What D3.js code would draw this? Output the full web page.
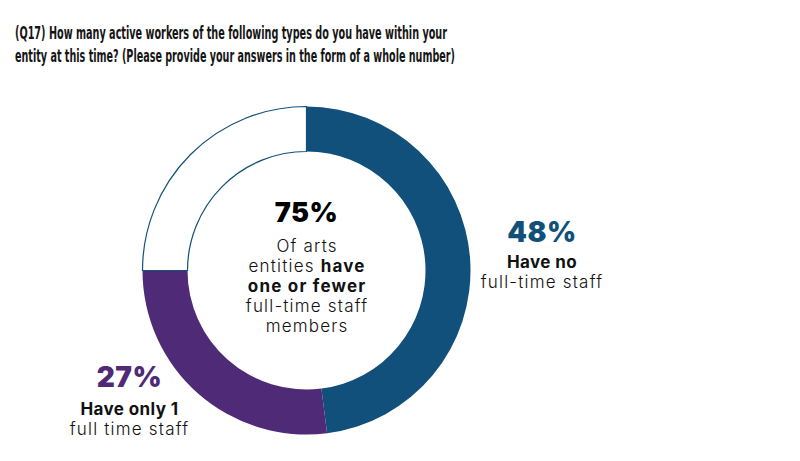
<!DOCTYPE html>
<html>
<head>
<meta charset="utf-8">
<script src="https://cdn.jsdelivr.net/npm/d3@7"></script>
<style>
  body { margin: 0; background: #fff; }
  svg { display: block; }
</style>
</head>
<body>
<svg width="800" height="461"></svg>
<script>
// data
var categories = ["Have no full-time staff", "Have only 1 full time staff", "More than 1"];
var values = [48, 27, 25];
var colors = ["#11507a", "#4e2a77", "#ffffff"];
var titleLines = [
  "(Q17) How many active workers of the following types do you have within your",
  "entity at this time? (Please provide your answers in the form of a whole number)"
];
var centerValue = "75%";

var svg = d3.select("svg");
var width = +svg.attr("width");
var height = +svg.attr("height");

// title
var title = svg.append("g");
title.selectAll("text")
  .data(titleLines)
  .enter()
  .append("text")
  .attr("x", 15)
  .attr("y", (d, i) => 38.5 + i * 23)
  .attr("textLength", (d, i) => i == 0 ? 432 : 440)
  .attr("lengthAdjust", "spacingAndGlyphs")
  .style("font-family", "'Liberation Sans Narrow', 'DejaVu Sans Condensed', sans-serif")
  .style("font-weight", "700")
  .style("font-size", "18px")
  .style("fill", "#151515")
  .text(d => d);

// donut
var cx = 306.5, cy = 270.5;
var outerR = 164, innerR = 119;

var pie = d3.pie().sort(null).value(d => d.value);
var arc = d3.arc().innerRadius(innerR).outerRadius(outerR);

var slices = values.map((v, i) => ({ name: categories[i], value: v, color: colors[i] }));

var g = svg.append("g").attr("transform", "translate(" + cx + "," + cy + ")");
g.selectAll("path")
  .data(pie(slices))
  .enter()
  .append("path")
  .attr("d", arc)
  .style("fill", d => d.data.color)
  .style("stroke", (d, i) => i == 2 ? colors[0] : "none")
  .style("stroke-width", 1.2);

// center label
var font = "Inter, 'Open Sans', sans-serif";
g.append("text")
  .attr("x", 0).attr("y", -49)
  .attr("text-anchor", "middle")
  .style("font-family", font)
  .style("font-weight", "900")
  .style("font-size", "27px")
  .style("letter-spacing", "0.5px")
  .style("fill", "#000")
  .text(centerValue);

var centerLines = [
  [["Of arts", 300]],
  [["entities ", 300], ["have", 700]],
  [["one or fewer", 700]],
  [["full-time staff", 300]],
  [["members", 300]]
];
centerLines.forEach(function (line, i) {
  var t = g.append("text")
    .attr("x", 0.6).attr("y", -19 + i * 20)
    .attr("text-anchor", "middle")
    .style("font-family", font)
    .style("font-size", "17px")
    .style("letter-spacing", "1.2px")
    .style("fill", "#111");
  line.forEach(function (p) {
    t.append("tspan").style("font-weight", p[1]).text(p[0]);
  });
});

// side labels
function sideLabel(x, y, pct, color, boldText, lightText, gap) {
  var lg = svg.append("g").attr("transform", "translate(" + x + "," + y + ")");
  lg.append("text")
    .attr("text-anchor", "middle")
    .style("font-family", font)
    .style("font-weight", "900")
    .style("font-size", "28px")
    .style("letter-spacing", "0.5px")
    .style("fill", color)
    .text(pct);
  lg.append("text")
    .attr("y", gap)
    .attr("text-anchor", "middle")
    .style("font-family", font)
    .style("font-weight", "700")
    .style("font-size", "17px")
    .style("letter-spacing", "0.4px")
    .style("fill", "#111")
    .text(boldText);
  lg.append("text")
    .attr("y", gap + 20)
    .attr("text-anchor", "middle")
    .style("font-family", font)
    .style("font-weight", "300")
    .style("font-size", "17px")
    .style("letter-spacing", "1.2px")
    .style("fill", "#111")
    .text(lightText);
}

sideLabel(542, 242, values[0] + "%", colors[0], "Have no", "full-time staff", 26);
sideLabel(129.5, 387, values[1] + "%", colors[1], "Have only 1", "full time staff", 28);
</script>
</body>
</html>
